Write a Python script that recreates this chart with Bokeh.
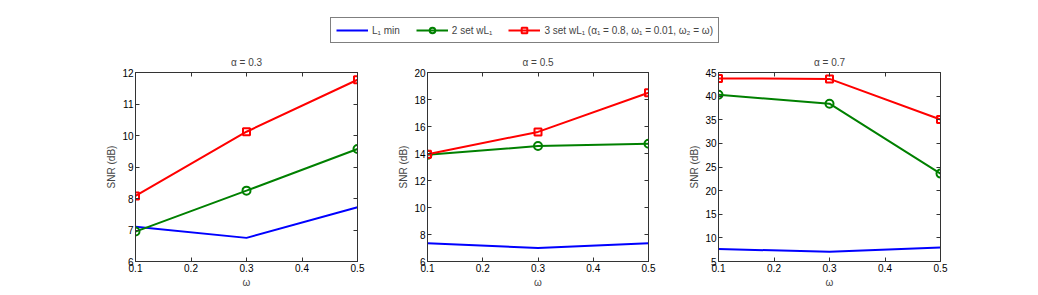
from bokeh.plotting import figure
from bokeh.layouts import column, row
from bokeh.models import Range1d, FixedTicker, LinearAxis, Legend, LegendItem
from bokeh.embed import file_html
from bokeh.resources import INLINE

omega = [0.1, 0.3, 0.5]
x_ticks = [0.1, 0.2, 0.3, 0.4, 0.5]

alphas = ["α = 0.3", "α = 0.5", "α = 0.7"]
l1_min = [[7.1, 6.75, 7.72], [7.35, 7.0, 7.35], [7.65, 7.05, 7.95]]
two_set = [[6.95, 8.25, 9.57], [13.9, 14.55, 14.72], [40.3, 38.4, 23.6]]
three_set = [[8.08, 10.12, 11.77], [13.95, 15.6, 18.5], [43.75, 43.65, 35.05]]
y_lims = [(6, 12), (6, 20), (5, 45)]
y_ticks = [[6, 7, 8, 9, 10, 11, 12], [6, 8, 10, 12, 14, 16, 18, 20],
           [5, 10, 15, 20, 25, 30, 35, 40, 45]]

legend_labels = ["L₁ min", "2 set wL₁", "3 set wL₁ (α₁ = 0.8, ω₁ = 0.01, ω₂ = ω)"]

BLUE = "#0000ff"
GREEN = "#008000"
RED = "#ff0000"
FONT = "Liberation Sans"

# border layout: (width, left, right)
geo = [(377, 135, 20), (291, 50, 20), (362, 50, 90)]
H = 242


def style_axis(ax, labels=True):
    ax.major_tick_in = 4
    ax.major_tick_out = 0
    ax.minor_tick_line_color = None
    ax.axis_line_color = "#333333"
    ax.major_tick_line_color = "#333333"
    ax.major_label_text_font = FONT
    ax.major_label_text_font_size = "10px"
    ax.major_label_text_color = "black" if labels else None
    ax.major_label_standoff = 2
    ax.axis_label_text_font = FONT
    ax.axis_label_text_font_size = "10px"
    ax.axis_label_text_font_style = "normal"
    ax.axis_label_standoff = 2


figs = []
for i in range(3):
    w, left, right = geo[i]
    p = figure(width=w, height=H, output_backend="svg", toolbar_location=None,
               x_range=Range1d(0.1, 0.5), y_range=Range1d(*y_lims[i]),
               min_border_left=left, min_border_right=right,
               min_border_top=24, min_border_bottom=28,
               title=alphas[i])
    p.title.align = "center"
    p.title.vertical_align = "middle"
    p.title.text_font = FONT
    p.title.text_font_size = "10px"
    p.title.text_font_style = "normal"
    p.title.standoff = 8
    p.grid.visible = False
    p.outline_line_color = "#666666"
    p.xaxis.ticker = FixedTicker(ticks=x_ticks)
    p.yaxis.ticker = FixedTicker(ticks=y_ticks[i])
    p.xaxis.axis_label = "ω"
    p.yaxis.axis_label = "SNR (dB)"
    for ax in p.xaxis + p.yaxis:
        style_axis(ax)
    ra = LinearAxis(ticker=FixedTicker(ticks=y_ticks[i]))
    style_axis(ra, labels=False)
    ra.major_label_standoff = 0
    p.add_layout(ra, "right")
    ta = LinearAxis(ticker=FixedTicker(ticks=x_ticks))
    style_axis(ta, labels=False)
    ta.major_label_standoff = 0
    p.add_layout(ta, "above")

    p.line(omega, l1_min[i], line_color=BLUE, line_width=2)
    p.line(omega, two_set[i], line_color=GREEN, line_width=2)
    p.scatter(omega, two_set[i], marker="circle", size=8, line_color=GREEN,
              fill_color=None, line_width=2)
    p.line(omega, three_set[i], line_color=RED, line_width=2)
    p.scatter(omega, three_set[i], marker="square", size=7, line_color=RED,
              fill_color=None, line_width=2)
    figs.append(p)

# legend figure (dummy renderers placed outside the visible range)
lf = figure(width=1030, height=48, output_backend="svg", toolbar_location=None,
            x_range=Range1d(0, 1), y_range=Range1d(0, 1),
            min_border_left=0, min_border_right=0, min_border_top=0, min_border_bottom=0)
lf.axis.visible = False
lf.grid.visible = False
lf.outline_line_color = None
dx, dy = [-5, -4], [-5, -4]
r1 = lf.line(dx, dy, line_color=BLUE, line_width=2)
r2l = lf.line(dx, dy, line_color=GREEN, line_width=2)
r2m = lf.scatter(dx, dy, marker="circle", size=8, line_color=GREEN, fill_color=None, line_width=2)
r3l = lf.line(dx, dy, line_color=RED, line_width=2)
r3m = lf.scatter(dx, dy, marker="square", size=7, line_color=RED, fill_color=None, line_width=2)
leg = Legend(items=[LegendItem(label=legend_labels[0], renderers=[r1]),
                    LegendItem(label=legend_labels[1], renderers=[r2l, r2m]),
                    LegendItem(label=legend_labels[2], renderers=[r3l, r3m])],
             orientation="horizontal", location=(330, 5))
leg.label_text_font = FONT
leg.label_text_font_size = "10px"
leg.glyph_width = 32
leg.glyph_height = 14
leg.label_standoff = 4
leg.spacing = 16
leg.padding = 5
leg.margin = 0
leg.border_line_color = "black"
leg.border_line_width = 1
leg.label_height = 14
lf.add_layout(leg, "center")

layout = column(lf, row(*figs, spacing=0), spacing=0)
open("out.html", "w").write(file_html(layout, INLINE))
